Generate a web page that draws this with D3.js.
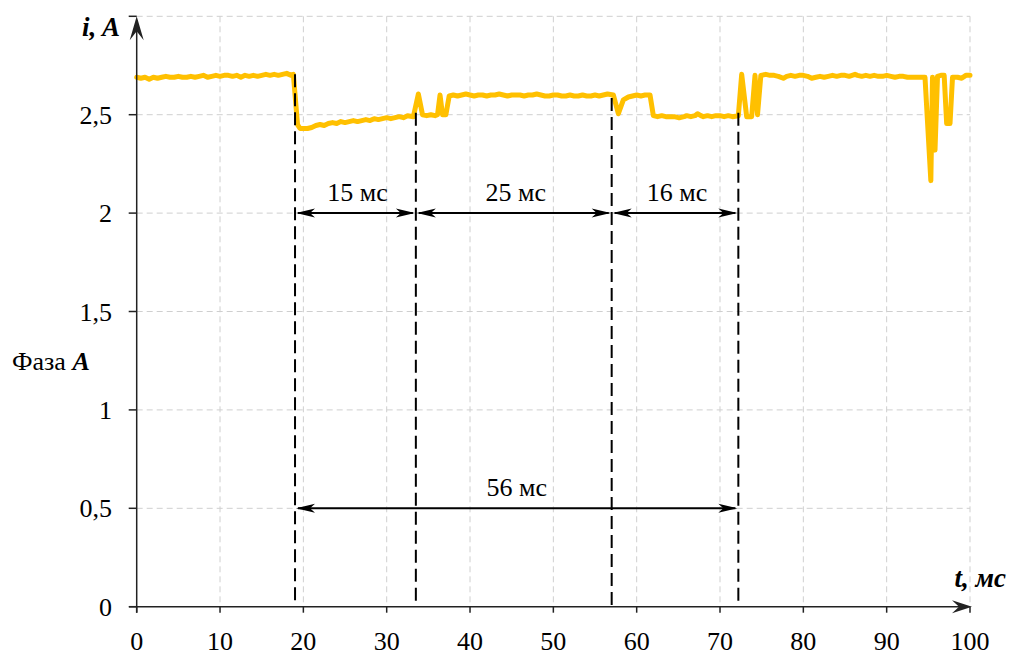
<!DOCTYPE html>
<html><head><meta charset="utf-8">
<script src="https://cdn.jsdelivr.net/npm/d3@7/dist/d3.min.js"></script>
<style>html,body{margin:0;padding:0;background:#fff;}</style>
</head><body>
<svg id="chart" width="1011" height="655"></svg>
<script>
// time, ms
const time = [0,0.5,1,1.5,2,2.5,3,3.5,4,4.5,5,5.5,6,6.5,7,7.5,8,8.5,9,9.5,10,10.5,11,11.5,12,12.5,13,13.5,14,14.5,15,15.5,16,16.5,17,17.5,18,18.5,18.8,
 19.3,19.6,20,20.5,21,21.5,22,22.5,23,23.5,24,24.5,25,25.5,26,26.5,27,27.5,28,28.5,29,29.5,30,30.5,31,31.5,32,32.5,33.2,
 33.8,34.3,34.8,35.3,35.8,36.1,36.4,36.7,37.1,37.5,38,38.5,39,39.5,40,40.5,41,41.5,42,42.5,43,43.5,44,44.5,45,45.5,46,46.5,47,47.5,48,48.5,49,49.5,50,50.5,51,51.5,52,52.5,53,53.5,54,54.5,55,55.5,56,56.5,57.2,
 57.8,58.4,59,59.5,60,60.5,61,61.6,62,62.5,63,63.5,64,64.5,65,65.2,65.7,66,66.5,67,67.3,67.7,68,68.5,69,69.5,70,70.5,71,71.5,72.2,
 72.6,73.2,73.8,74.2,74.5,74.9,75.5,76,76.5,77,77.6,78,78.5,79,79.5,80,80.5,81,81.5,82,82.5,83,83.5,84,84.5,85,85.5,86.2,86.5,87,87.5,88,88.5,89,89.5,90,90.5,91,91.5,92,92.5,93,93.5,94,94.6,
 95.3,95.5,95.8,96.1,96.5,96.9,97.2,97.6,97.9,98.5,99,99.5,100];
// phase A current, A
const current = [2.69,2.685,2.69,2.68,2.69,2.685,2.69,2.695,2.69,2.69,2.695,2.69,2.69,2.695,2.69,2.695,2.70,2.69,2.695,2.70,2.695,2.70,2.70,2.695,2.70,2.69,2.70,2.695,2.70,2.695,2.70,2.705,2.70,2.705,2.70,2.705,2.71,2.70,2.705,
 2.45,2.43,2.43,2.43,2.435,2.445,2.45,2.445,2.455,2.46,2.455,2.465,2.46,2.465,2.47,2.465,2.47,2.475,2.47,2.48,2.475,2.48,2.485,2.48,2.485,2.49,2.485,2.495,2.49,
 2.605,2.50,2.495,2.50,2.495,2.50,2.60,2.50,2.50,2.595,2.60,2.595,2.60,2.605,2.60,2.595,2.60,2.60,2.595,2.60,2.60,2.605,2.60,2.595,2.60,2.60,2.60,2.595,2.60,2.60,2.605,2.60,2.595,2.595,2.60,2.60,2.595,2.595,2.60,2.595,2.595,2.60,2.595,2.595,2.60,2.595,2.60,2.605,2.60,
 2.505,2.575,2.59,2.595,2.60,2.595,2.60,2.60,2.495,2.49,2.495,2.49,2.49,2.49,2.485,2.485,2.49,2.495,2.49,2.495,2.505,2.495,2.49,2.495,2.49,2.495,2.495,2.49,2.495,2.49,2.495,
 2.705,2.49,2.49,2.70,2.50,2.70,2.705,2.70,2.70,2.695,2.685,2.695,2.70,2.695,2.70,2.70,2.695,2.685,2.69,2.695,2.69,2.695,2.70,2.695,2.70,2.70,2.695,2.705,2.70,2.695,2.70,2.695,2.70,2.695,2.695,2.70,2.695,2.69,2.695,2.695,2.69,2.69,2.69,2.69,2.69,
 2.165,2.69,2.32,2.695,2.70,2.70,2.455,2.455,2.69,2.69,2.685,2.70,2.70];
const xTicks = [0,10,20,30,40,50,60,70,80,90,100];
const yTicks = [0,0.5,1,1.5,2,2.5,3];
const yTickLabels = ["0","0,5","1","1,5","2","2,5",""];
const markerTimes = [19, 33.5, 57, 72.2];
const markerTops = [2.705, 2.51, 2.585, 2.51];
const spans = [[19,33.5,2,"15 мс"],[33.5,57,2,"25 мс"],[57,72.2,2,"16 мс"],[19,72.2,0.5,"56 мс"]];

const FONT = "'Liberation Serif', 'Times New Roman', Tinos, 'DejaVu Serif', serif";
const svg = d3.select("#chart").attr("font-family", FONT);
const x = d3.scaleLinear().domain([0,100]).range([136.7,970]);
const y = d3.scaleLinear().domain([0,3]).range([606.7,16.3]);

// grid
const grid = svg.append("g").attr("stroke","#cfcfcf").attr("stroke-width",1).attr("stroke-dasharray","6,4");
grid.selectAll("line.v").data(xTicks.filter(d=>d>0)).join("line")
  .attr("x1",d=>x(d)).attr("x2",d=>x(d)).attr("y1",y(3)).attr("y2",y(0));
grid.selectAll("line.h").data(yTicks.filter(d=>d>0)).join("line").attr("class","h")
  .attr("x1",x(0)).attr("x2",x(100)).attr("y1",d=>y(d)).attr("y2",d=>y(d));

// signal
svg.append("path").datum(time.map((t,i)=>[t,current[i]]))
  .attr("fill","none").attr("stroke","#FFC000").attr("stroke-width",5)
  .attr("stroke-linejoin","round").attr("stroke-linecap","round")
  .attr("d", d3.line().x(d=>x(d[0])).y(d=>y(d[1])));

// dashed markers
svg.append("g").selectAll("line").data(markerTimes).join("line")
  .attr("x1",d=>x(d)).attr("x2",d=>x(d))
  .attr("y1",(d,i)=>y(markerTops[i])).attr("y2",y(0))
  .attr("stroke","#000").attr("stroke-width",2).attr("stroke-dasharray","13,6");

// axes
const axisColor = "#222";
const ax = svg.append("g").attr("stroke",axisColor).attr("stroke-width",1.5);
ax.append("line").attr("x1",129).attr("x2",x(100)-4).attr("y1",y(0)).attr("y2",y(0));
ax.append("line").attr("x1",x(0)).attr("x2",x(0)).attr("y1",y(0)+6).attr("y2",y(3)+4);
ax.selectAll("line.xt").data(xTicks).join("line").attr("class","xt")
  .attr("x1",d=>x(d)).attr("x2",d=>x(d)).attr("y1",y(0)).attr("y2",y(0)+6);
ax.selectAll("line.yt").data(yTicks).join("line").attr("class","yt")
  .attr("x1",x(0)-8).attr("x2",x(0)).attr("y1",d=>y(d)).attr("y2",d=>y(d));

// axis arrowheads
function stealth(tx,ty,dx,dy,len,hw,notch){
  const px=-dy, py=dx;
  const bx=tx-dx*len, by=ty-dy*len;
  const nx=tx-dx*notch, ny=ty-dy*notch;
  return `M${tx},${ty}L${bx+px*hw},${by+py*hw}L${nx},${ny}L${bx-px*hw},${by-py*hw}Z`;
}
svg.append("path").attr("d",stealth(x(0),y(3),0,-1,24,7,15)).attr("fill",axisColor);
svg.append("path").attr("d",stealth(x(100)+2,y(0),1,0,20,6.5,13)).attr("fill",axisColor);

// tick labels
svg.append("g").selectAll("text").data(xTicks).join("text")
  .attr("x",d=>x(d)).attr("y",650).attr("text-anchor","middle").attr("font-family",FONT)
  .attr("font-size",26).attr("fill","#000").text(d=>d);
svg.append("g").selectAll("text").data(yTicks).join("text")
  .attr("x",112).attr("y",d=>y(d)+9).attr("text-anchor","end").attr("font-family",FONT)
  .attr("font-size",26).attr("fill","#000").text((d,i)=>yTickLabels[i]);

// span arrows
const sp = svg.append("g");
spans.forEach(s=>{
  const x1=x(s[0]), x2=x(s[1]), yy=y(s[2]);
  sp.append("line").attr("x1",x1+3).attr("x2",x2-3).attr("y1",yy).attr("y2",yy)
    .attr("stroke","#000").attr("stroke-width",2);
  sp.append("path").attr("d",stealth(x1+1,yy,-1,0,19,4.5,14)).attr("fill","#000");
  sp.append("path").attr("d",stealth(x2-1,yy,1,0,19,4.5,14)).attr("fill","#000");
  sp.append("text").attr("x",(x1+x2)/2+(s[2]===2?2:0)).attr("y",yy-12).attr("font-family",FONT)
    .attr("text-anchor","middle").attr("font-size",26).attr("fill","#000").text(s[3]);
});

// axis titles
svg.append("text").attr("x",120).attr("y",36).attr("text-anchor","end").attr("font-family",FONT)
  .attr("font-size",27).attr("font-weight","bold").attr("font-style","italic").text("i, A");
svg.append("text").attr("x",1006).attr("y",587).attr("text-anchor","end").attr("font-family",FONT)
  .attr("font-size",27).attr("font-weight","bold").attr("font-style","italic").text("t, мс");
const ft = svg.append("text").attr("x",12).attr("y",370).attr("font-size",26).attr("font-family",FONT);
ft.append("tspan").text("Фаза ");
ft.append("tspan").attr("font-weight","bold").attr("font-style","italic").text("A");
</script>
</body></html>
